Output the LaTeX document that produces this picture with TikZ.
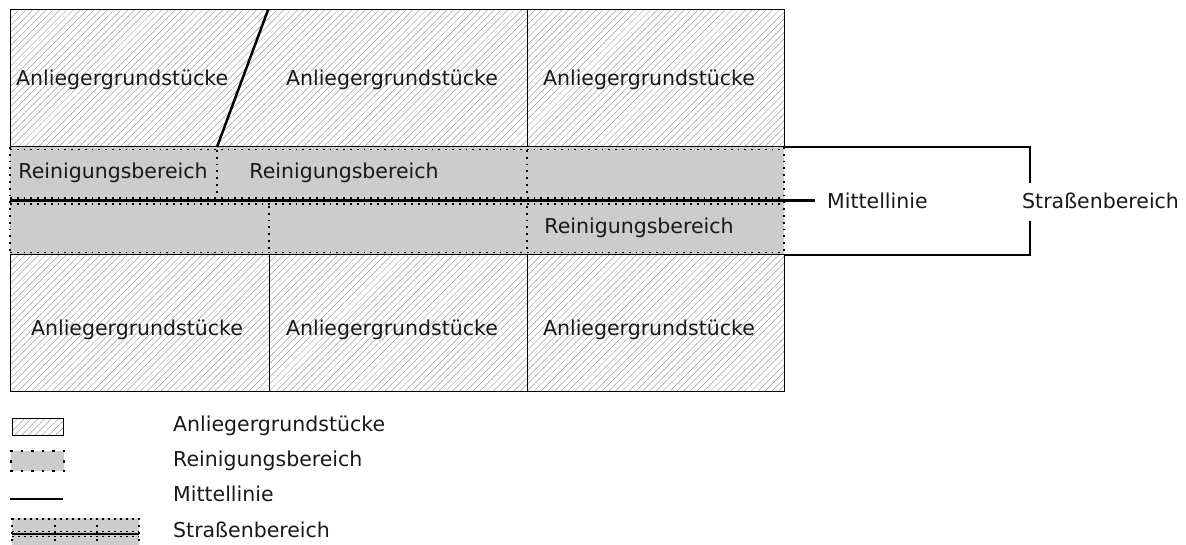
\documentclass[tikz,border=0pt]{standalone}
\usepackage{fontspec}
\setmainfont{DejaVu Sans}
\usetikzlibrary{patterns.meta}
\definecolor{bandgray}{gray}{0.8}
\tikzset{
  hatch/.style={pattern={Lines[angle=45,distance=4.8pt,line width=0.5pt]},pattern color=black!38},
  bandfill/.style={fill=bandgray,draw=none},
  dotline/.style={line width=1.8pt,dash pattern=on 1.8pt off 5pt},
  frame/.style={line width=1pt},
  midline/.style={line width=3pt},
  bracket/.style={line width=1.3pt},
  lbl/.style={font=\fontsize{20.5}{24}\selectfont, text=black!90, inner sep=0pt},
}
\begin{document}
\begin{tikzpicture}[x=1pt,y=-1pt]
\useasboundingbox (0,0) rectangle (1186,545);
% ---------- coordinates ----------
\coordinate (TL) at (10,10);
\coordinate (TR) at (784,10);
\coordinate (B1L) at (10,147);
\coordinate (B1R) at (784,147);
\coordinate (ML) at (10,201);
\coordinate (MR) at (784,201);
\coordinate (B2L) at (10,255);
\coordinate (B2R) at (784,255);
\coordinate (BL) at (10,391);
\coordinate (BR) at (784,391);
% ---------- bands ----------
\fill[bandfill] (B1L) rectangle (MR);
\fill[bandfill] (ML) rectangle (B2R);
% ---------- hatched plots ----------
\fill[hatch] (TL) rectangle (B1R);
\fill[hatch] (B2L) rectangle (BR);
% ---------- dotted band borders ----------
\draw[dotline] (10,149.5) -- (784,149.5);
\draw[dotline] (10,198) -- (784,198);
\draw[dotline] (10,204) -- (784,204);
\draw[dotline] (10,252.5) -- (784,252.5);
\draw[dotline] (10,147) -- (10,255);
\draw[dotline] (784,147) -- (784,255);
\draw[dotline] (217,150) -- (217,196);
\draw[dotline] (527,150) -- (527,196);
\draw[dotline] (269,206) -- (269,252);
\draw[dotline] (527,206) -- (527,252);
% ---------- plot frames ----------
\draw[frame] (TL) rectangle (B1R);
\draw[frame] (527,10) -- (527,147);
\draw[line width=2.5pt] (268,10) -- (217,147);
\draw[frame] (B2L) rectangle (BR);
\draw[frame] (269,255) -- (269,391);
\draw[frame] (527,255) -- (527,391);
% ---------- labels in plots ----------
\node[lbl,anchor=west] (a1) at (16,80) {Anliegergrundstücke};
\node[lbl] (a2) at (392,80) {Anliegergrundstücke};
\node[lbl] (a3) at (649,80) {Anliegergrundstücke};
\node[lbl] (a4) at (137,330) {Anliegergrundstücke};
\node[lbl] (a5) at (392,330) {Anliegergrundstücke};
\node[lbl] (a6) at (649,330) {Anliegergrundstücke};
\node[lbl] (r1) at (113,173) {Reinigungsbereich};
\node[lbl] (r2) at (344,173) {Reinigungsbereich};
\node[lbl] (r3) at (639,228) {Reinigungsbereich};
% ---------- Mittellinie ----------
\coordinate (mEnd) at (815,201);
\node[lbl,anchor=west] (mlab) at (827,201) {Mittellinie};
\draw[midline] (ML) -- (mEnd);
% ---------- Straßenbereich bracket ----------
\node[lbl,anchor=west] (slab) at (1022,201) {Straßenbereich};
\coordinate (bk1) at (1030,147);
\coordinate (bk2) at (1030,255);
\draw[bracket] (B1R) -- (bk1) -- (bk1 |- 0,183);
\draw[bracket] (bk2 |- 0,221) -- (bk2) -- (B2R);
% ---------- legend ----------
\fill[hatch] (12,418) rectangle (63,435);
\draw[line width=0.9pt] (12,418) rectangle (63,435);
\node[lbl,anchor=west] (l1) at (173,426) {Anliegergrundstücke};

\fill[bandfill] (11,451) rectangle (64,471);
\draw[line width=2.6pt,dash pattern=on 2.6pt off 7.9pt] (10,451) -- (66,451);
\draw[line width=2.6pt,dash pattern=on 2.6pt off 7.9pt] (10,471) -- (66,471);
\draw[line width=2.6pt] (11,460.3) -- (11,462.7);
\draw[line width=2.6pt] (64,460.3) -- (64,462.7);
\node[lbl,anchor=west] (l2) at (173,461) {Reinigungsbereich};

\draw[line width=2pt] (10,499) -- (63,499);
\node[lbl,anchor=west] (l3) at (173,494) {Mittellinie};

\fill[bandfill] (12,518) rectangle (139,545);
\draw[line width=1.5pt,dash pattern=on 1.5pt off 4.5pt] (12,519) -- (139,519);
\draw[line width=1.5pt,dash pattern=on 1.5pt off 4.5pt] (12,531.5) -- (139,531.5);
\draw[line width=1.5pt,dash pattern=on 1.5pt off 4.5pt] (12,536.5) -- (139,536.5);
\draw[line width=2pt] (12,534) -- (139,534);
\foreach \xx in {12,55,97,139}{
  \draw[line width=1.2pt,dash pattern=on 2pt off 5pt] (\xx,518) -- (\xx,545);
}
\node[lbl,anchor=west] (l4) at (173,530) {Straßenbereich};
\end{tikzpicture}
\end{document}
